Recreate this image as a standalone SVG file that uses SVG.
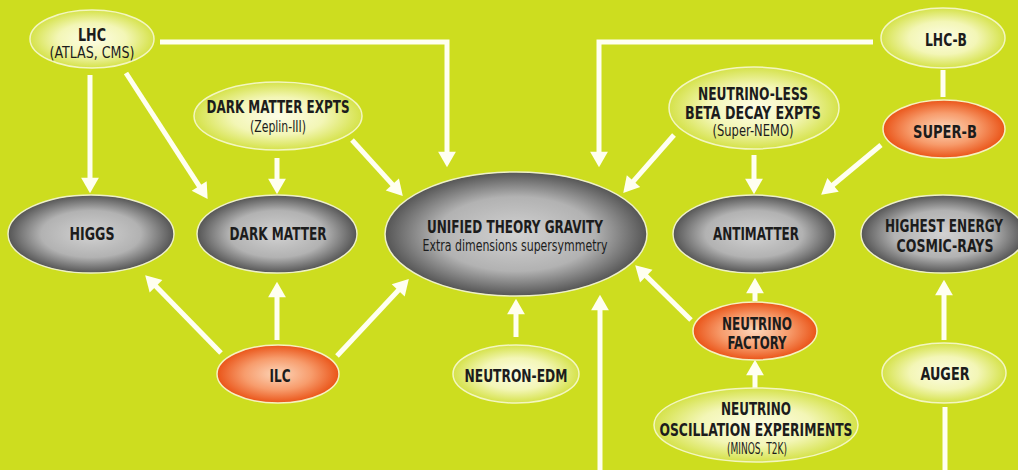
<svg xmlns="http://www.w3.org/2000/svg" width="1018" height="470" viewBox="0 0 1018 470">
<defs>
<radialGradient id="gLight" cx="50%" cy="50%" r="50%">
<stop offset="0" stop-color="#fdfde6"/>
<stop offset="0.55" stop-color="#f3f6b6"/>
<stop offset="1" stop-color="#d5e24a"/>
</radialGradient>
<radialGradient id="gGray" cx="50%" cy="50%" r="50%">
<stop offset="0" stop-color="#d2d2d2"/>
<stop offset="0.6" stop-color="#b2b2b2"/>
<stop offset="1" stop-color="#555555"/>
</radialGradient>
<radialGradient id="gOrange" cx="50%" cy="50%" r="50%">
<stop offset="0" stop-color="#fcd6ba"/>
<stop offset="0.55" stop-color="#f79c6c"/>
<stop offset="1" stop-color="#ea5418"/>
</radialGradient>
<marker id="ah" markerUnits="userSpaceOnUse" markerWidth="20" markerHeight="20" viewBox="0 -9 15 18" refX="3" refY="0" orient="auto">
<path d="M0,-8 L14,0 L0,8 z" fill="#fffff0"/>
</marker>
<style>
.bg{fill:#cddd1f}
.light{fill:url(#gLight);stroke:#f3f6c0;stroke-width:1.5}
.gray{fill:url(#gGray);stroke:#eef0c8;stroke-width:1.5}
.orange{fill:url(#gOrange);stroke:#f6f1c0;stroke-width:1.5}
text{font-family:"DejaVu Sans Condensed","Liberation Sans",Arial,sans-serif;fill:#1c1c1c;text-anchor:middle}
.b{font-weight:bold;font-size:17.5px}
.s{font-size:15px}
.m{font-size:16px}
.c{fill:none;stroke:#fffff0;stroke-width:5}
.a{marker-end:url(#ah)}
</style>
</defs>
<rect class="bg" x="0" y="0" width="1018" height="470"/>

<g id="connectors">
<line class="c a" x1="90" y1="75" x2="90" y2="181"/>
<line class="c a" x1="126" y1="73" x2="201" y2="188.8"/>
<polyline class="c a" points="160,42 447,42 447,155"/>
<line class="c a" x1="277" y1="158" x2="277" y2="182"/>
<line class="c a" x1="352" y1="140" x2="394.6" y2="186.9"/>
<polyline class="c a" points="873,42 599,42 599,155"/>
<line class="c" x1="943" y1="70" x2="943" y2="97"/>
<line class="c a" x1="674" y1="135" x2="631.3" y2="183.7"/>
<line class="c a" x1="754" y1="155" x2="754" y2="182"/>
<line class="c a" x1="881" y1="145" x2="830.5" y2="187"/>
<line class="c a" x1="221" y1="353" x2="153.7" y2="283.9"/>
<line class="c a" x1="277" y1="340" x2="277" y2="294"/>
<line class="c a" x1="337" y1="356" x2="400.5" y2="288"/>
<line class="c a" x1="516" y1="337" x2="516" y2="311"/>
<line class="c a" x1="600" y1="470" x2="600" y2="307"/>
<line class="c a" x1="691" y1="320" x2="643.9" y2="273.7"/>
<line class="c a" x1="755" y1="301" x2="755" y2="290"/>
<line class="c a" x1="755" y1="388" x2="755" y2="372"/>
<line class="c" x1="945" y1="470" x2="945" y2="407"/>
<line class="c a" x1="944" y1="340" x2="944" y2="292"/>
</g>

<g id="lhc">
<ellipse class="light" cx="92" cy="39" rx="62" ry="29"/>
<text class="b" x="92" y="41" textLength="28" lengthAdjust="spacingAndGlyphs">LHC</text>
<text class="s" x="92" y="58" textLength="85" lengthAdjust="spacingAndGlyphs">(ATLAS, CMS)</text>
</g>
<g id="dark-matter-expts">
<ellipse class="light" cx="278" cy="116" rx="84" ry="34"/>
<text class="b" x="278" y="113" textLength="143" lengthAdjust="spacingAndGlyphs">DARK MATTER EXPTS</text>
<text class="s" x="278" y="132" textLength="56" lengthAdjust="spacingAndGlyphs">(Zeplin-III)</text>
</g>
<g id="lhc-b">
<ellipse class="light" cx="943" cy="38" rx="62" ry="30"/>
<text class="b" x="946" y="46" textLength="42" lengthAdjust="spacingAndGlyphs">LHC-B</text>
</g>
<g id="super-b">
<ellipse class="orange" cx="944" cy="129" rx="61" ry="29"/>
<text class="b" x="945" y="138" textLength="64" lengthAdjust="spacingAndGlyphs">SUPER-B</text>
</g>
<g id="neutrinoless">
<ellipse class="light" cx="754" cy="108" rx="85" ry="41"/>
<text class="b" x="753" y="100" textLength="110" lengthAdjust="spacingAndGlyphs">NEUTRINO-LESS</text>
<text class="b" x="753" y="119" textLength="136" lengthAdjust="spacingAndGlyphs">BETA DECAY EXPTS</text>
<text class="s" x="753" y="136" textLength="81" lengthAdjust="spacingAndGlyphs">(Super-NEMO)</text>
</g>
<g id="higgs">
<ellipse class="gray" cx="91" cy="234" rx="83" ry="39"/>
<text class="b" x="92" y="240" textLength="45" lengthAdjust="spacingAndGlyphs">HIGGS</text>
</g>
<g id="dark-matter">
<ellipse class="gray" cx="277" cy="234" rx="80" ry="39"/>
<text class="b" x="278" y="240" textLength="97" lengthAdjust="spacingAndGlyphs">DARK MATTER</text>
</g>
<g id="unified">
<ellipse class="gray" cx="516" cy="234" rx="131" ry="62"/>
<text class="b" x="515" y="233" textLength="176" lengthAdjust="spacingAndGlyphs">UNIFIED THEORY GRAVITY</text>
<text class="m" x="515" y="251" textLength="185" lengthAdjust="spacingAndGlyphs">Extra dimensions supersymmetry</text>
</g>
<g id="antimatter">
<ellipse class="gray" cx="754" cy="234" rx="81" ry="39"/>
<text class="b" x="756" y="240" textLength="86" lengthAdjust="spacingAndGlyphs">ANTIMATTER</text>
</g>
<g id="cosmic-rays">
<ellipse class="gray" cx="943" cy="234" rx="82" ry="39"/>
<text class="b" x="944" y="232" textLength="118" lengthAdjust="spacingAndGlyphs">HIGHEST ENERGY</text>
<text class="b" x="945" y="252" textLength="97" lengthAdjust="spacingAndGlyphs">COSMIC-RAYS</text>
</g>
<g id="ilc">
<ellipse class="orange" cx="278" cy="374" rx="61" ry="29"/>
<text class="b" x="280" y="382" textLength="21" lengthAdjust="spacingAndGlyphs">ILC</text>
</g>
<g id="neutron-edm">
<ellipse class="light" cx="516" cy="374" rx="63" ry="29"/>
<text class="b" x="516" y="382" textLength="103" lengthAdjust="spacingAndGlyphs">NEUTRON-EDM</text>
</g>
<g id="neutrino-factory">
<ellipse class="orange" cx="755" cy="331" rx="62" ry="29"/>
<text class="b" x="757" y="330" textLength="70" lengthAdjust="spacingAndGlyphs">NEUTRINO</text>
<text class="b" x="757" y="349" textLength="59" lengthAdjust="spacingAndGlyphs">FACTORY</text>
</g>
<g id="neutrino-oscillation">
<ellipse class="light" cx="756" cy="425" rx="102" ry="37"/>
<text class="b" x="756" y="415" textLength="70" lengthAdjust="spacingAndGlyphs">NEUTRINO</text>
<text class="b" x="756" y="436" textLength="193" lengthAdjust="spacingAndGlyphs">OSCILLATION EXPERIMENTS</text>
<text class="s" x="757" y="454" textLength="60" lengthAdjust="spacingAndGlyphs">(MINOS, T2K)</text>
</g>
<g id="auger">
<ellipse class="light" cx="944" cy="373" rx="62" ry="30"/>
<text class="b" x="945" y="380" textLength="49" lengthAdjust="spacingAndGlyphs">AUGER</text>
</g>
</svg>
